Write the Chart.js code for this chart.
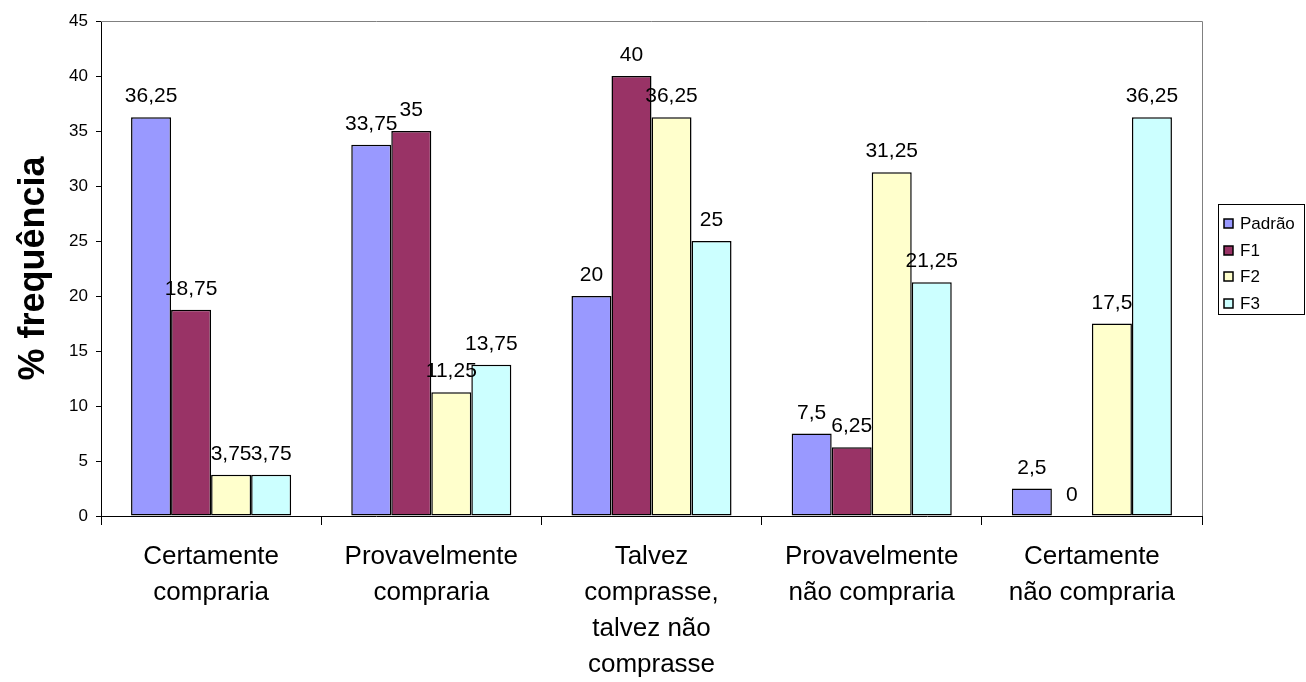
<!DOCTYPE html>
<html>
<head>
<meta charset="utf-8">
<script src="https://cdn.jsdelivr.net/npm/chart.js@4.4.1/dist/chart.umd.min.js"></script>
<style>
  html, body { margin: 0; padding: 0; background: #fff; }
  #wrap { width: 1306px; height: 682px; }
</style>
</head>
<body>
<div id="wrap"><canvas id="chart" width="1306" height="682"></canvas></div>
<script>
const categories = [
  ['Certamente', 'compraria'],
  ['Provavelmente', 'compraria'],
  ['Talvez', 'comprasse,', 'talvez não', 'comprasse'],
  ['Provavelmente', 'não compraria'],
  ['Certamente', 'não compraria']
];
const seriesNames = ['Padrão', 'F1', 'F2', 'F3'];
const padrao = [36.25, 33.75, 20, 7.5, 2.5];
const f1 = [18.75, 35, 40, 6.25, 0];
const f2 = [3.75, 11.25, 36.25, 31.25, 17.5];
const f3 = [3.75, 13.75, 25, 21.25, 36.25];
const seriesColors = ['#9999FF', '#993366', '#FFFFCC', '#CCFFFF'];
const yTicks = { min: 0, max: 45, step: 5 };

const FONT = "'Liberation Sans', Arial, sans-serif";

// value labels above each bar, decimal comma
const valueLabels = {
  id: 'valueLabels',
  afterDatasetsDraw(chart) {
    const ctx = chart.ctx;
    ctx.save();
    ctx.font = '21px ' + FONT;
    ctx.fillStyle = '#000';
    ctx.textAlign = 'center';
    ctx.textBaseline = 'alphabetic';
    chart.data.datasets.forEach((ds, i) => {
      chart.getDatasetMeta(i).data.forEach((bar, j) => {
        const txt = String(ds.data[j]).replace('.', ',');
        ctx.fillText(txt, bar.x, bar.y - 15);
      });
    });
    ctx.restore();
  }
};

// grey frame on the top and right of the plot area
const plotFrame = {
  id: 'plotFrame',
  beforeDatasetsDraw(chart) {
    const { ctx, chartArea: a } = chart;
    ctx.save();
    ctx.strokeStyle = '#808080';
    ctx.lineWidth = 1;
    ctx.beginPath();
    ctx.moveTo(a.left, a.top + 0.5);
    ctx.lineTo(a.right + 0.5, a.top + 0.5);
    ctx.lineTo(a.right + 0.5, a.bottom);
    ctx.stroke();
    ctx.restore();
  }
};

// boxed legend on the right
const boxLegend = {
  id: 'boxLegend',
  afterDraw(chart) {
    const ctx = chart.ctx;
    const x0 = 1218, y0 = 204, w = 86, h = 110;
    ctx.save();
    ctx.strokeStyle = '#000';
    ctx.lineWidth = 1;
    ctx.strokeRect(x0 + 0.5, y0 + 0.5, w, h);
    ctx.font = '17px ' + FONT;
    ctx.textBaseline = 'middle';
    ctx.textAlign = 'left';
    chart.data.datasets.forEach((ds, i) => {
      const cy = Math.round(223 + i * 26.7);
      ctx.fillStyle = ds.backgroundColor;
      ctx.fillRect(x0 + 6, cy - 4, 9, 9);
      ctx.lineWidth = 1.5;
      ctx.strokeRect(x0 + 6, cy - 4, 9, 9);
      ctx.fillStyle = '#000';
      ctx.fillText(ds.label, x0 + 22, cy + 1);
    });
    ctx.restore();
  }
};

const datasets = [padrao, f1, f2, f3].map((vals, i) => ({
  label: seriesNames[i],
  data: vals,
  backgroundColor: seriesColors[i],
  borderColor: '#000',
  borderWidth: 1.5,
  borderSkipped: false,
  categoryPercentage: 0.727,
  barPercentage: 1
}));

new Chart(document.getElementById('chart'), {
  type: 'bar',
  data: { labels: categories, datasets },
  plugins: [plotFrame, valueLabels, boxLegend],
  options: {
    responsive: false,
    animation: false,
    layout: { padding: { top: 21, right: 104, left: 0, bottom: 0 } },
    plugins: {
      legend: { display: false },
      tooltip: { enabled: false }
    },
    scales: {
      x: {
        afterFit(scale) { scale.height = 166; },
        grid: {
          offset: true,
          drawOnChartArea: false,
          drawTicks: true,
          tickLength: 9,
          color: '#000'
        },
        border: { display: true, color: '#000' },
        ticks: {
          color: '#000',
          padding: 14,
          maxRotation: 0,
          autoSkip: false,
          font: { family: FONT, size: 26, lineHeight: 1.385 }
        }
      },
      y: {
        min: yTicks.min,
        max: yTicks.max,
        afterFit(scale) { scale.width = 101; },
        grid: {
          drawOnChartArea: false,
          drawTicks: true,
          tickLength: 5,
          color: '#000'
        },
        border: { display: true, color: '#000' },
        ticks: {
          stepSize: yTicks.step,
          color: '#000',
          padding: 8,
          font: { family: FONT, size: 17 }
        },
        title: {
          display: true,
          text: '% frequência',
          color: '#000',
          padding: { top: 12, bottom: 0 },
          font: { family: FONT, size: 36, weight: 'bold' }
        }
      }
    }
  }
});
</script>
</body>
</html>
